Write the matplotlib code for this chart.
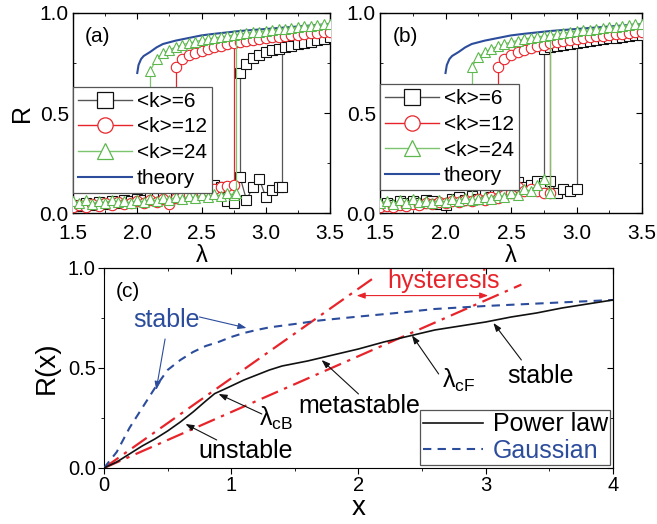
import numpy as np
import matplotlib
matplotlib.use('Agg')
import matplotlib.pyplot as plt
from matplotlib.lines import Line2D
from matplotlib.ticker import MultipleLocator, FormatStrFormatter

plt.rcParams['font.family'] = ['Liberation Sans', 'DejaVu Sans']
plt.rcParams['mathtext.fontset'] = 'custom'
plt.rcParams['mathtext.rm'] = 'Liberation Sans'


def grid(a, b):
    # lambda sampling grid of the sweeps
    return np.round(np.arange(a, b + 1e-9, 0.05), 2)


# ---- panel (a) ----
lamA_k6_lo = np.append(grid(1.5, 3.10), 3.13)
RA_k6_lo = [0.04, 0.035, 0.05, 0.04, 0.055, 0.045, 0.06, 0.05, 0.065, 0.06,
            0.07, 0.065, 0.08, 0.075, 0.09, 0.085, 0.10, 0.095, 0.11, 0.12,
            0.15, 0.12, 0.14, 0.13, 0.06, 0.05, 0.18, 0.065, 0.13, 0.17,
            0.08, 0.115, 0.13, 0.13]
lamA_k6_hi = grid(2.80, 3.50)
RA_k6_hi = [0.70, 0.745, 0.775, 0.79, 0.805, 0.815, 0.82, 0.83, 0.835, 0.845,
            0.85, 0.855, 0.865, 0.87, 0.88]

lamA_k12_lo = grid(1.5, 2.75)
RA_k12_lo = [0.03, 0.04, 0.03, 0.045, 0.035, 0.05, 0.04, 0.055, 0.045, 0.05,
             0.06, 0.05, 0.065, 0.055, 0.07, 0.045, 0.075, 0.08, 0.09, 0.085,
             0.10, 0.11, 0.12, 0.13, 0.135, 0.14]
lamA_k12_hi = grid(2.30, 3.50)
RA_k12_hi = [0.73, 0.77, 0.79, 0.80, 0.81, 0.82, 0.83, 0.835, 0.845, 0.85,
             0.855, 0.86, 0.865, 0.87, 0.875, 0.88, 0.882, 0.885, 0.89, 0.892,
             0.895, 0.898, 0.90, 0.903, 0.905]

lamA_k24_lo = np.append(grid(1.5, 2.75), 2.77)
RA_k24_lo = [0.06, 0.05, 0.065, 0.045, 0.06, 0.05, 0.065, 0.055, 0.06, 0.05,
             0.065, 0.055, 0.07, 0.06, 0.075, 0.065, 0.08, 0.07, 0.085, 0.075,
             0.09, 0.08, 0.095, 0.085, 0.10, 0.09, 0.10]
lamA_k24_hi = grid(2.10, 3.50)
RA_k24_hi = [0.71, 0.77, 0.80, 0.815, 0.83, 0.84, 0.85, 0.855, 0.865, 0.87,
             0.875, 0.88, 0.885, 0.89, 0.895, 0.90, 0.903, 0.907, 0.91, 0.915,
             0.918, 0.922, 0.925, 0.93, 0.933, 0.937, 0.94, 0.943, 0.947]

# ---- panel (b) ----
lamB_k6_lo = grid(1.5, 3.00)
RB_k6_lo = [0.04, 0.05, 0.04, 0.06, 0.05, 0.06, 0.05, 0.065, 0.06, 0.045,
            0.04, 0.07, 0.08, 0.065, 0.085, 0.07, 0.09, 0.08, 0.10, 0.11,
            0.12, 0.155, 0.13, 0.14, 0.16, 0.15, 0.16, 0.10, 0.12, 0.11,
            0.12]
lamB_k6_hi = grid(2.75, 3.50)
RB_k6_hi = [0.82, 0.83, 0.835, 0.84, 0.845, 0.85, 0.855, 0.86, 0.865, 0.87,
            0.873, 0.877, 0.88, 0.885, 0.888, 0.89]

lamB_k12_lo = grid(1.5, 2.80)
RB_k12_lo = [0.03, 0.035, 0.03, 0.04, 0.035, 0.045, 0.04, 0.05, 0.045, 0.055,
             0.05, 0.06, 0.055, 0.065, 0.06, 0.07, 0.065, 0.08, 0.075, 0.09,
             0.10, 0.13, 0.11, 0.12, 0.11, 0.10, 0.10]
lamB_k12_hi = grid(2.40, 3.50)
RB_k12_hi = [0.73, 0.77, 0.79, 0.805, 0.815, 0.825, 0.835, 0.84, 0.85, 0.855,
             0.86, 0.865, 0.87, 0.875, 0.88, 0.883, 0.887, 0.89, 0.893, 0.897,
             0.90, 0.903, 0.906]

lamB_k24_lo = grid(1.5, 2.80)
RB_k24_lo = [0.05, 0.06, 0.045, 0.065, 0.05, 0.07, 0.055, 0.06, 0.05, 0.065,
             0.055, 0.07, 0.06, 0.075, 0.065, 0.07, 0.08, 0.07, 0.09, 0.08,
             0.10, 0.09, 0.12, 0.11, 0.14, 0.17, 0.10]
lamB_k24_hi = grid(2.20, 3.50)
RB_k24_hi = [0.73, 0.78, 0.805, 0.82, 0.835, 0.845, 0.855, 0.862, 0.87, 0.875,
             0.88, 0.885, 0.89, 0.895, 0.90, 0.905, 0.91, 0.913, 0.917, 0.92,
             0.925, 0.928, 0.932, 0.935, 0.94, 0.943, 0.947]

# theory curve (same in a and b)
lam_th = [2.0, 2.01, 2.03, 2.05, 2.1, 2.15, 2.2, 2.3, 2.4, 2.5, 2.6, 2.8, 3.0, 3.2, 3.5]
R_th = [0.70, 0.74, 0.77, 0.785, 0.805, 0.828, 0.845, 0.862, 0.875, 0.888,
        0.896, 0.91, 0.92, 0.93, 0.945]

# ---- panel (c) ----
x_pl = [0, 0.1, 0.2, 0.3, 0.4, 0.5, 0.6, 0.7, 0.8, 0.87, 0.95, 1.0, 1.1, 1.2, 1.3,
        1.4, 1.6, 1.8, 2.0, 2.2, 2.4, 2.6, 2.8, 3.0, 3.2, 3.4, 3.6, 3.8, 4.0]
R_pl = [0, 0.03, 0.07, 0.11, 0.145, 0.185, 0.23, 0.28, 0.335, 0.372, 0.395, 0.41,
        0.44, 0.465, 0.49, 0.51, 0.535, 0.565, 0.595, 0.63, 0.66, 0.69, 0.71, 0.73,
        0.755, 0.775, 0.80, 0.82, 0.84]
x_ga = [0, 0.1, 0.2, 0.3, 0.4, 0.5, 0.6, 0.7, 0.8, 0.9, 1.0, 1.1, 1.2, 1.3, 1.5,
        1.7, 2.0, 2.3, 2.6, 3.0, 3.5, 4.0]
R_ga = [0, 0.08, 0.2, 0.3, 0.4, 0.49, 0.54, 0.58, 0.61, 0.63, 0.655, 0.675, 0.69,
        0.703, 0.72, 0.738, 0.757, 0.775, 0.795, 0.81, 0.825, 0.84]
x_lB, R_lB = [0, 2.13], [0, 0.955]
x_lF, R_lF = [0, 3.28], [0, 0.917]

labels_k = ['<k>=6', '<k>=12', '<k>=24', 'theory']

BLK = '#111111'
RED = '#e8242b'
GRN = '#5cb84c'
BLU = '#2c4c9c'
styles = [(BLK, '#555555', 's'), (RED, RED, 'o'), (GRN, '#7cc46e', '^')]


def branch(ax, l_lo, r_lo, l_hi, r_hi, st, z):
    c, lc, m = st
    up = np.interp(l_lo[-1], l_hi, r_hi)
    down = np.interp(l_hi[0], l_lo, r_lo)
    ax.plot([l_lo[-1]] * 2, [r_lo[-1], up], color=lc, lw=0.9, zorder=z)
    ax.plot([l_hi[0]] * 2, [r_hi[0], down], color=lc, lw=0.9, zorder=z)
    for l, r in ((l_lo, r_lo), (l_hi, r_hi)):
        ax.plot(l, r, color=lc, lw=0.9, marker=m, ms=7.5, mfc='white', mec=c,
                mew=0.8, zorder=z)


fig = plt.figure(figsize=(6.57, 5.24), dpi=100)
axA = fig.add_axes([0.1111, 0.5935, 0.3912, 0.3817])
axB = fig.add_axes([0.5784, 0.5935, 0.3988, 0.3817])
axC = fig.add_axes([0.1583, 0.1069, 0.7747, 0.3817])

panels = [
    (axA, '(a)', [(lamA_k6_lo, RA_k6_lo, lamA_k6_hi, RA_k6_hi),
                  (lamA_k12_lo, RA_k12_lo, lamA_k12_hi, RA_k12_hi),
                  (lamA_k24_lo, RA_k24_lo, lamA_k24_hi, RA_k24_hi)], 0.632),
    (axB, '(b)', [(lamB_k6_lo, RB_k6_lo, lamB_k6_hi, RB_k6_hi),
                  (lamB_k12_lo, RB_k12_lo, lamB_k12_hi, RB_k12_hi),
                  (lamB_k24_lo, RB_k24_lo, lamB_k24_hi, RB_k24_hi)], 0.645),
]

for ax, tag, series, ltop in panels:
    ax.plot(lam_th, R_th, color=BLU, lw=1.5, zorder=2)
    for i, s in enumerate(series):
        branch(ax, *s, styles[i], 3 + i)
    ax.set_xlim(1.5, 3.5)
    ax.set_ylim(0, 1)
    ax.xaxis.set_major_locator(MultipleLocator(0.5))
    ax.xaxis.set_minor_locator(MultipleLocator(0.25))
    ax.yaxis.set_major_locator(MultipleLocator(0.5))
    ax.yaxis.set_minor_locator(MultipleLocator(0.25))
    ax.xaxis.set_major_formatter(FormatStrFormatter('%.1f'))
    ax.yaxis.set_major_formatter(FormatStrFormatter('%.1f'))
    ax.tick_params(which='both', direction='in', top=True, right=True,
                   labelsize=15, pad=3)
    ax.tick_params(axis='x', which='major', pad=8)
    ax.tick_params(which='major', length=4)
    ax.tick_params(which='minor', length=2.5)
    ax.set_xlabel('λ', fontsize=17, labelpad=1)
    ax.text(0.047, 0.88, tag, transform=ax.transAxes, fontsize=15, va='center')
    handles = [Line2D([], [], color=lc, marker=m, ms=11, mfc='white', mec=c,
                      mew=0.9, lw=1) for c, lc, m in styles]
    handles.append(Line2D([], [], color=BLU, lw=1.5))
    leg = ax.legend(handles, labels_k, loc='upper left', bbox_to_anchor=(0, ltop),
                    borderaxespad=0, fontsize=15, fancybox=False, framealpha=1,
                    edgecolor='#555555', handlelength=2.6, handletextpad=0.2,
                    labelspacing=0.32, borderpad=0.25)
    leg.get_frame().set_linewidth(0.9)
    leg.set_zorder(10)
    for sp in ax.spines.values():
        sp.set_linewidth(1.0)

axA.set_ylabel('R', fontsize=18, labelpad=4)

# ---- panel (c) ----
ax = axC
ax.plot(x_lB, R_lB, color=RED, lw=1.6, dashes=[8, 3, 1.5, 3], zorder=2)
ax.plot(x_lF, R_lF, color=RED, lw=1.6, dashes=[8, 3, 1.5, 3], zorder=2)
ax.plot(x_ga, R_ga, color=BLU, lw=1.5, dashes=[4, 3], zorder=3, label='Gaussian')
ax.plot(x_pl, R_pl, color=BLK, lw=1.2, zorder=4, label='Power law')
ax.set_xlim(0, 4)
ax.set_ylim(0, 1)
ax.xaxis.set_major_locator(MultipleLocator(1))
ax.xaxis.set_minor_locator(MultipleLocator(0.5))
ax.yaxis.set_major_locator(MultipleLocator(0.5))
ax.yaxis.set_minor_locator(MultipleLocator(0.25))
ax.yaxis.set_major_formatter(FormatStrFormatter('%.1f'))
ax.tick_params(which='both', direction='out', labelsize=14.5, pad=2)
ax.tick_params(which='major', length=4)
ax.tick_params(which='minor', length=2.5)
sx = ax.secondary_xaxis('top')
sx.xaxis.set_major_locator(MultipleLocator(1))
sx.xaxis.set_minor_locator(MultipleLocator(0.5))
sx.tick_params(which='both', direction='in', labeltop=False)
sx.tick_params(which='major', length=4)
sx.tick_params(which='minor', length=2.5)
sy = ax.secondary_yaxis('right')
sy.yaxis.set_major_locator(MultipleLocator(0.5))
sy.yaxis.set_minor_locator(MultipleLocator(0.25))
sy.tick_params(which='both', direction='in', labelright=False)
sy.tick_params(which='major', length=4)
sy.tick_params(which='minor', length=2.5)
ax.set_xlabel('x', fontsize=20, labelpad=0)
ax.set_ylabel('R(x)', fontsize=20, labelpad=6)

h = [Line2D([], [], color=BLK, lw=1.2), Line2D([], [], color=BLU, lw=1.5, dashes=[4, 3])]
leg = ax.legend(h, ['Power law', 'Gaussian'], loc='lower right', borderaxespad=0.1,
                fontsize=18, fancybox=False, framealpha=1, edgecolor='#555555',
                handlelength=2.4, handletextpad=0.4, labelspacing=0.1, borderpad=0.1)
leg.get_texts()[1].set_color(BLU)
leg.get_frame().set_linewidth(0.9)

ax.text(0.09, 0.88, '(c)', fontsize=15, va='center')


def arrow(head, tail, color=BLK, both=False):
    style = '<|-|>' if both else '-|>'
    ax.annotate('', xy=head, xytext=tail,
                arrowprops=dict(arrowstyle=style + ',head_length=0.5,head_width=0.18',
                                color=color, lw=0.8, shrinkA=0, shrinkB=0))


ax.text(0.49, 0.74, 'stable', color=BLU, fontsize=18, ha='center', va='center')
arrow((1.12, 0.70), (0.75, 0.755), BLU)
arrow((0.41, 0.39), (0.48, 0.645), BLU)
ax.text(1.11, 0.085, 'unstable', fontsize=18, ha='center', va='center')
arrow((0.64, 0.22), (0.886, 0.14))
ax.text(1.22, 0.25, 'λ$_{\\mathrm{cB}}$', fontsize=18, va='center')
arrow((0.90, 0.37), (1.24, 0.27))
ax.text(2.01, 0.31, 'metastable', fontsize=18, ha='center', va='center')
arrow((1.71, 0.54), (2.0, 0.37))
ax.text(2.66, 0.44, 'λ$_{\\mathrm{cF}}$', fontsize=18, va='center')
arrow((2.42, 0.663), (2.63, 0.47))
ax.text(3.43, 0.46, 'stable', fontsize=18, ha='center', va='center')
arrow((3.06, 0.725), (3.28, 0.54))
ax.text(2.67, 0.935, 'hysteresis', color=RED, fontsize=18, ha='center', va='center')
arrow((1.985, 0.862), (3.02, 0.862), RED, both=True)

fig.savefig('out.png', dpi=100)
